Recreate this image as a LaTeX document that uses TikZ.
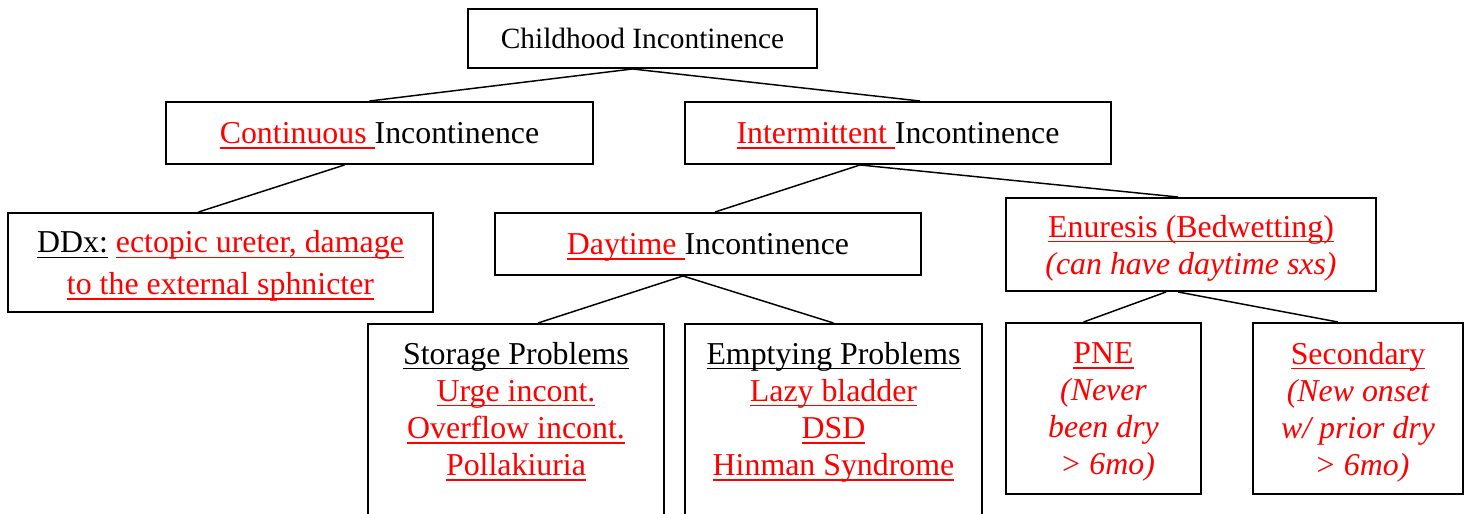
\documentclass[tikz,border=0pt]{standalone}
\usepackage{fontspec}
\setmainfont{Liberation Serif}
\usetikzlibrary{calc}

% underline at a fixed depth, coloured like the text
\newcommand\uln[1]{\setbox0\hbox{#1}\rlap{\rule[-2.2pt]{\wd0}{0.6pt}}\box0\relax}
\newcommand\rdt[1]{\textcolor{red}{#1}}
\def\pxu{0.408pt}

\begin{document}
\begin{tikzpicture}[x=0.408pt,y=-0.408pt,
    box/.style={draw, line width=0.8pt, inner sep=0pt, align=center, text depth=0pt,
      font=\fontsize{13}{15.1}\selectfont},
    link/.style={line width=0.6pt}]
    \useasboundingbox (0,0) rectangle (1469,514);
    \clip (0,0) rectangle (1469,514);
    % boxes
    \node[box, minimum width=349*\pxu, minimum height=59*\pxu,
      font=\fontsize{12}{14}\selectfont] (root) at (642.5,38.5) {Childhood Incontinence};
    \node[box, minimum width=427*\pxu, minimum height=62*\pxu] (cont) at (379.5,133)
      {\rdt{\uln{Continuous\ }}Incontinence};
    \node[box, minimum width=426*\pxu, minimum height=62*\pxu] (inter) at (898,133)
      {\rdt{\uln{Intermittent\ }}Incontinence};
    \node[box, minimum width=425*\pxu, minimum height=99*\pxu,
      font=\fontsize{13}{17.1}\selectfont] (ddx) at (220.5,262.5)
      {\uln{DDx:} \rdt{\uln{ectopic ureter, damage}}\\ \rdt{\uln{to the external sphnicter}}};
    \node[box, minimum width=426*\pxu, minimum height=62*\pxu] (day) at (708,244)
      {\rdt{\uln{Daytime\ }}Incontinence};
    \node[box, minimum width=370*\pxu, minimum height=93*\pxu] (enu) at (1191,244.5)
      {\rdt{\uln{Enuresis (Bedwetting)}}\\ \rdt{\itshape (can have daytime sxs)}};
    \node[box, anchor=north, minimum width=296*\pxu, inner ysep=18*\pxu,
      text depth=80*\pxu] (stor) at (516,323)
      {\uln{Storage Problems}\\ \rdt{\uln{Urge incont.}}\\ \rdt{\uln{Overflow incont.}}\\ \rdt{\uln{Pollakiuria}}};
    \node[box, anchor=north, minimum width=297*\pxu, inner ysep=18*\pxu,
      text depth=80*\pxu] (empt) at (833.5,323)
      {\uln{Emptying Problems}\\ \rdt{\uln{Lazy bladder}}\\ \rdt{\uln{DSD}}\\ \rdt{\uln{Hinman Syndrome}}};
    \node[box, minimum width=195*\pxu, minimum height=171*\pxu] (pne) at (1103.5,408.5)
      {\rdt{\uln{PNE}}\\ \rdt{\itshape (Never}\\ \rdt{\itshape been dry}\\ \rdt{\itshape\ > 6mo)}};
    \node[box, minimum width=210*\pxu, minimum height=171*\pxu] (sec) at (1358,408.5)
      {\rdt{\uln{Secondary}}\\ \rdt{\itshape (New onset}\\ \rdt{\itshape w/ prior dry}\\ \rdt{\itshape\ > 6mo)}};
    % connectors
    \draw[link] ($(root.south)+(-10,0)$) -- ($(cont.north)+(-10,0)$);
    \draw[link] ($(root.south)+(-10,0)$) -- ($(inter.north)+(22,0)$);
    \draw[link] ($(cont.south)+(-35,0)$) -- ($(ddx.north)+(-22,0)$);
    \draw[link] ($(inter.south)+(-38,0)$) -- ($(day.north)+(7,0)$);
    \draw[link] ($(inter.south)+(-38,0)$) -- ($(enu.north)+(-13,0)$);
    \draw[link] ($(day.south)+(-25,0)$) -- ($(stor.north)+(22,0)$);
    \draw[link] ($(day.south)+(-25,0)$) -- (empt.north);
    \draw[link] ($(enu.south)+(-25,0)$) -- ($(pne.north)+(-20,0)$);
    \draw[link] ($(enu.south)+(-13,0)$) -- ($(sec.north)+(-20,0)$);
\end{tikzpicture}
\end{document}
